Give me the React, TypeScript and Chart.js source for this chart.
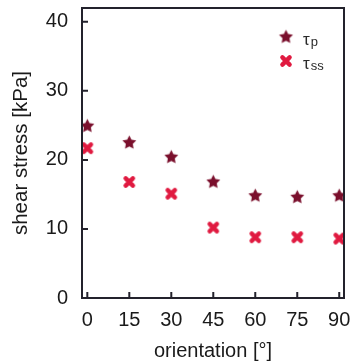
import { useEffect, useRef } from "react";
import { Chart, registerables } from "chart.js";

Chart.register(...registerables);

const orientations = [0, 15, 30, 45, 60, 75, 90];
const tauP = [24.9, 22.5, 20.4, 16.8, 14.8, 14.6, 14.8];
const tauSS = [21.7, 16.8, 15.1, 10.2, 8.8, 8.8, 8.6];
const xTicks = [0, 15, 30, 45, 60, 75, 90];
const yTicks = [0, 10, 20, 30, 40];
const legendMain = ["τ", "τ"];
const legendSub = ["p", "ss"];

const COLOR_P = "#7a0f2c";
const COLOR_SS = "#e01a40";
const AXIS = "#23222c";
const FONT = "'Liberation Sans', Arial, sans-serif";

function makeStar(color: string, R: number, ratio: number) {
  const size = Math.ceil(2 * R + 4);
  const c = document.createElement("canvas");
  c.width = size;
  c.height = size;
  const ctx = c.getContext("2d")!;
  ctx.translate(size / 2, size / 2);
  ctx.beginPath();
  for (let i = 0; i < 10; i++) {
    const r = i % 2 === 0 ? R : R * ratio;
    const a = -Math.PI / 2 + (i * Math.PI) / 5;
    const x = r * Math.cos(a);
    const y = r * Math.sin(a);
    if (i === 0) ctx.moveTo(x, y);
    else ctx.lineTo(x, y);
  }
  ctx.closePath();
  ctx.fillStyle = color;
  ctx.fill();
  return c;
}

function makeCross(color: string, half: number, lw: number) {
  const size = Math.ceil(2 * half + lw + 4);
  const c = document.createElement("canvas");
  c.width = size;
  c.height = size;
  const ctx = c.getContext("2d")!;
  ctx.translate(size / 2, size / 2);
  ctx.strokeStyle = color;
  ctx.lineWidth = lw;
  ctx.lineCap = "round";
  ctx.beginPath();
  ctx.moveTo(-half, -half);
  ctx.lineTo(half, half);
  ctx.moveTo(half, -half);
  ctx.lineTo(-half, half);
  ctx.stroke();
  return c;
}

function zeroPad(s: any) {
  s.paddingLeft = 0;
  s.paddingRight = 0;
  s.paddingTop = 0;
  s.paddingBottom = 0;
}

export default function App() {
  const ref = useRef<HTMLCanvasElement>(null);

  useEffect(() => {
    const canvas = ref.current;
    if (!canvas) return;
    const star = makeStar(COLOR_P, 7.3, 0.5);
    const cross = makeCross(COLOR_SS, 3.6, 4.4);
    const markers = [star, cross];

    const framePlugin = {
      id: "frame",
      afterDraw(chart: any) {
        const { ctx, chartArea: a, scales } = chart;
        ctx.save();
        ctx.strokeStyle = AXIS;
        ctx.lineWidth = 2;
        ctx.strokeRect(a.left, a.top, a.right - a.left, a.bottom - a.top);
        const tl = 6;
        ctx.beginPath();
        xTicks.forEach((v) => {
          const px = scales.x.getPixelForValue(v);
          ctx.moveTo(px, a.bottom);
          ctx.lineTo(px, a.bottom - tl);
        });
        yTicks.forEach((v) => {
          const py = scales.y.getPixelForValue(v);
          ctx.moveTo(a.left, py);
          ctx.lineTo(a.left + tl, py);
        });
        ctx.stroke();

        // legend
        const mx = a.right - 58;
        const rows = [a.top + 29, a.top + 53];
        rows.forEach((y, i) => {
          const m = markers[i];
          ctx.drawImage(m, mx - m.width / 2, y - m.height / 2);
          ctx.fillStyle = "#2a2a2a";
          ctx.textBaseline = "alphabetic";
          ctx.textAlign = "left";
          ctx.font = `17px ${FONT}`;
          const tx = mx + 17;
          ctx.fillText(legendMain[i], tx, y + 7.5);
          const w = ctx.measureText(legendMain[i]).width;
          ctx.font = `13px ${FONT}`;
          ctx.fillText(legendSub[i], tx + w + 1, y + 9);
        });
        ctx.restore();
      },
    };

    const chart = new Chart(canvas, {
      type: "scatter",
      data: {
        datasets: [
          {
            label: "τp",
            data: orientations.map((x, i) => ({ x, y: tauP[i] })),
            pointStyle: star as any,
            backgroundColor: COLOR_P,
            borderColor: COLOR_P,
          },
          {
            label: "τss",
            data: orientations.map((x, i) => ({ x, y: tauSS[i] })),
            pointStyle: cross as any,
            backgroundColor: COLOR_SS,
            borderColor: COLOR_SS,
          },
        ],
      },
      options: {
        animation: false,
        responsive: false,
        layout: { padding: { top: 8, right: 8, left: 0, bottom: 0 } },
        plugins: {
          legend: { display: false },
          tooltip: { enabled: false },
        },
        scales: {
          x: {
            type: "linear",
            position: "bottom",
            min: -1.9,
            max: 91.7,
            grid: { display: false, drawTicks: false },
            border: { display: false },
            ticks: {
              font: { family: FONT, size: 20 },
              color: "#1a1a1a",
              padding: 10,
              maxRotation: 0,
              autoSkip: false,
            },
            afterBuildTicks: (s: any) => {
              s.ticks = xTicks.map((v) => ({ value: v }));
            },
            afterFit: (s: any) => {
              s.height = 65;
              zeroPad(s);
            },
            title: {
              display: true,
              text: "orientation [°]",
              font: { family: FONT, size: 20 },
              color: "#1a1a1a",
              padding: { top: 0, bottom: 0 },
            },
          },
          y: {
            type: "linear",
            position: "left",
            min: 0,
            max: 42,
            grid: { display: false, drawTicks: false },
            border: { display: false },
            ticks: {
              font: { family: FONT, size: 20 },
              color: "#1a1a1a",
              padding: 14,
              autoSkip: false,
            },
            afterBuildTicks: (s: any) => {
              s.ticks = yTicks.map((v) => ({ value: v }));
            },
            afterFit: (s: any) => {
              s.width = 82;
              zeroPad(s);
            },
            title: {
              display: true,
              text: "shear stress [kPa]",
              font: { family: FONT, size: 20.5 },
              color: "#1a1a1a",
              padding: { top: 9, bottom: 0 },
            },
          },
        },
      },
      plugins: [framePlugin],
    });
    return () => chart.destroy();
  }, []);

  return (
    <div style={{ position: "fixed", left: 0, top: 0, width: 352, height: 363 }}>
      <canvas ref={ref} width={352} height={363} style={{ display: "block" }} />
    </div>
  );
}
